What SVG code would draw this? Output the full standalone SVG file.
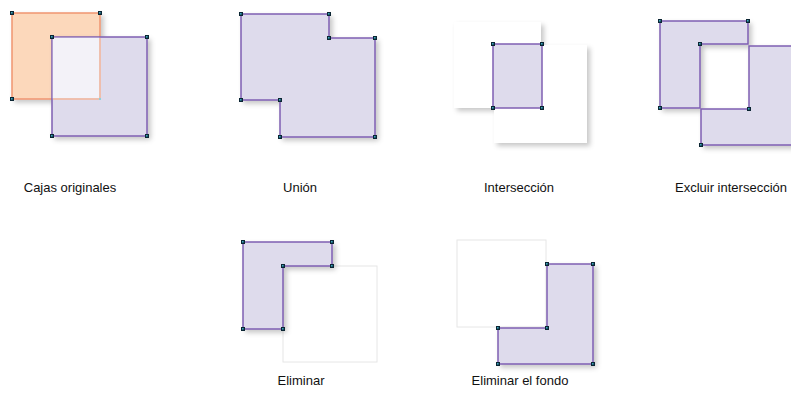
<svg xmlns="http://www.w3.org/2000/svg" xmlns:xlink="http://www.w3.org/1999/xlink" width="791" height="412" viewBox="0 0 791 412">
<style>
.p{fill:#dedbec;stroke:#7f5fb2;stroke-width:1.5;stroke-linejoin:miter}
.o{fill:#fcd8bb;stroke:#f09570;stroke-width:1.5}
.w{fill:#ffffff;stroke:#e6e6e6;stroke-width:1}
.wn{fill:#ffffff;stroke:none}
.t{font-family:"Liberation Sans",Arial,sans-serif;font-size:13px;fill:#111;text-anchor:middle}
</style>
<defs>
<filter id="sh" x="-20%" y="-20%" width="150%" height="150%">
<feDropShadow dx="3" dy="3" stdDeviation="2.5" flood-color="#000" flood-opacity="0.22"/>
</filter>
<g id="h"><rect x="-2" y="-2" width="4" height="4" fill="#0b2533"/><rect x="-1" y="-1" width="1.6" height="1.6" fill="#3aa7bd"/></g>
</defs>
<rect width="791" height="412" fill="#fff"/>

<g id="originales">
<rect class="o" x="12" y="13" width="88" height="86" filter="url(#sh)"/>
<rect class="p" x="52" y="37" width="95" height="99" filter="url(#sh)"/>
<rect x="52.75" y="37.75" width="46.5" height="60.5" fill="#f3f2f8"/>
<path d="M100 38V99H53" fill="none" stroke="#f4b599" stroke-width="1.5"/>
<use xlink:href="#h" x="12" y="13"/><use xlink:href="#h" x="100" y="13"/><use xlink:href="#h" x="12" y="99"/>
<rect x="99" y="98" width="2" height="2" fill="#8fd0dc"/>
<use xlink:href="#h" x="52" y="37"/><use xlink:href="#h" x="147" y="37"/><use xlink:href="#h" x="52" y="136"/><use xlink:href="#h" x="147" y="136"/>
</g>

<g id="union">
<polygon class="p" points="241,14 329,14 329,38 375,38 375,137 280,137 280,100 241,100" filter="url(#sh)"/>
<use xlink:href="#h" x="241" y="14"/><use xlink:href="#h" x="329" y="14"/><use xlink:href="#h" x="329" y="38"/><use xlink:href="#h" x="375" y="38"/><use xlink:href="#h" x="375" y="137"/><use xlink:href="#h" x="280" y="137"/><use xlink:href="#h" x="280" y="100"/><use xlink:href="#h" x="241" y="100"/>
</g>

<g id="interseccion">
<rect class="wn" x="454" y="22" width="87" height="86" filter="url(#sh)"/>
<rect class="wn" x="494" y="45" width="93" height="98" filter="url(#sh)"/>
<rect class="p" x="493" y="44" width="49" height="64"/>
<use xlink:href="#h" x="493" y="44"/><use xlink:href="#h" x="542" y="44"/><use xlink:href="#h" x="493" y="108"/><use xlink:href="#h" x="542" y="108"/>
</g>

<g id="excluir">
<polygon class="p" points="660,21 748,21 748,44 700,44 700,108 660,108" filter="url(#sh)"/>
<polygon class="p" points="749,46 800,46 800,145 701,145 701,109 749,109" filter="url(#sh)"/>
<use xlink:href="#h" x="660" y="21"/><use xlink:href="#h" x="748" y="21"/><use xlink:href="#h" x="700" y="44"/><use xlink:href="#h" x="660" y="108"/>
<use xlink:href="#h" x="749" y="109"/><use xlink:href="#h" x="701" y="145"/>
</g>

<g id="eliminar">
<rect class="w" x="283" y="266" width="94" height="96"/>
<polygon class="p" points="243,242 332,242 332,266 283,266 283,329 243,329" filter="url(#sh)"/>
<use xlink:href="#h" x="243" y="242"/><use xlink:href="#h" x="332" y="242"/><use xlink:href="#h" x="332" y="266"/><use xlink:href="#h" x="283" y="266"/><use xlink:href="#h" x="283" y="329"/><use xlink:href="#h" x="243" y="329"/>
</g>

<g id="eliminar-fondo">
<rect class="w" x="457" y="240" width="89" height="87"/>
<polygon class="p" points="547,264 593,264 593,364 498,364 498,328 547,328" filter="url(#sh)"/>
<use xlink:href="#h" x="547" y="264"/><use xlink:href="#h" x="593" y="264"/><use xlink:href="#h" x="593" y="364"/><use xlink:href="#h" x="498" y="364"/><use xlink:href="#h" x="498" y="328"/><use xlink:href="#h" x="547" y="328"/>
</g>

<g id="labels">
<text class="t" x="70" y="192">Cajas originales</text>
<text class="t" x="300" y="192">Unión</text>
<text class="t" x="519" y="192">Intersección</text>
<text class="t" x="731" y="192">Excluir intersección</text>
<text class="t" x="301" y="385">Eliminar</text>
<text class="t" x="520" y="385">Eliminar el fondo</text>
</g>
</svg>
